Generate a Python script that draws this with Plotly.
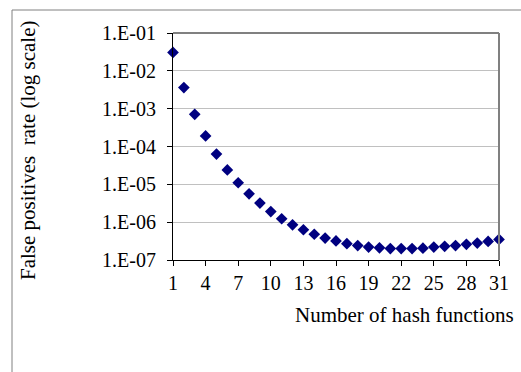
import plotly.graph_objects as go

hash_functions = list(range(1, 32))
false_positive_rate = [
    3.07e-2, 3.6e-3, 7.1e-4, 1.9e-4, 6.3e-5, 2.4e-5, 1.1e-5, 5.6e-6, 3.2e-6, 1.9e-6,
    1.23e-6, 8.5e-7, 6.3e-7, 4.8e-7, 3.8e-7, 3.2e-7, 2.7e-7, 2.4e-7, 2.2e-7, 2.1e-7,
    2.0e-7, 2.0e-7, 2.0e-7, 2.05e-7, 2.2e-7, 2.3e-7, 2.4e-7, 2.6e-7, 2.8e-7, 3.1e-7, 3.5e-7,
]
y_tick_vals = [1e-7, 1e-6, 1e-5, 1e-4, 1e-3, 1e-2, 1e-1]
y_tick_text = ["1.E-07", "1.E-06", "1.E-05", "1.E-04", "1.E-03", "1.E-02", "1.E-01"]
x_tick_vals = [1, 4, 7, 10, 13, 16, 19, 22, 25, 28, 31]

FONT = "Liberation Serif, Times New Roman, serif"
W, H = 521, 372
L, R, T, B = 173, 22, 33, 112
pw, ph = W - L - R, H - T - B

fig = go.Figure()
fig.add_trace(go.Scatter(
    x=hash_functions, y=false_positive_rate, mode="markers",
    marker=dict(symbol="diamond", size=9, color="#000080", line=dict(width=0)),
    cliponaxis=False, showlegend=False,
))

fig.update_layout(
    width=W, height=H,
    margin=dict(l=L, r=R, t=T, b=B),
    paper_bgcolor="white", plot_bgcolor="white",
    font=dict(family=FONT, size=20, color="black"),
    xaxis=dict(
        range=[1, 31], tickmode="array", tickvals=x_tick_vals,
        ticks="outside", ticklen=5, tickcolor="black", tickwidth=1,
        showline=True, linecolor="black", linewidth=1,
        showgrid=False, zeroline=False,
        tickfont=dict(family=FONT, size=20),
    ),
    yaxis=dict(
        type="log", range=[-7, -1], tickmode="array",
        tickvals=y_tick_vals, ticktext=y_tick_text,
        ticks="outside", ticklen=5, tickcolor="black", tickwidth=1,
        ticklabelstandoff=7,
        showline=True, linecolor="black", linewidth=1,
        showgrid=True, gridcolor="#c0c0c0", gridwidth=1, zeroline=False,
        tickfont=dict(family=FONT, size=20),
    ),
    shapes=[
        dict(type="line", xref="paper", yref="paper", x0=0, x1=1, y0=1, y1=1,
             line=dict(color="#808080", width=2)),
        dict(type="line", xref="paper", yref="paper", x0=1, x1=1, y0=0, y1=1,
             line=dict(color="#808080", width=2)),
        dict(type="line", xref="paper", yref="paper",
             x0=(12 - L) / pw, x1=(W + 5 - L) / pw,
             y0=1 + (T - 10) / ph, y1=1 + (T - 10) / ph,
             line=dict(color="#808080", width=1)),
        dict(type="line", xref="paper", yref="paper",
             x0=(12 - L) / pw, x1=(12 - L) / pw,
             y0=1 + (T - 10) / ph, y1=-(H + 5 - T - ph) / ph,
             line=dict(color="#808080", width=1)),
    ],
    annotations=[
        dict(text="False positives  rate (log scale)", textangle=-90,
             xref="paper", yref="paper",
             x=(28 - L) / pw, y=1 - (150 - T) / ph,
             xanchor="center", yanchor="middle", showarrow=False,
             font=dict(family=FONT, size=21)),
        dict(text="Number of hash functions",
             xref="paper", yref="paper",
             x=(516 - L) / pw, y=-(315 - T - ph) / ph,
             xanchor="right", yanchor="middle", showarrow=False,
             font=dict(family=FONT, size=21)),
    ],
)

fig.write_html("out.html", config={"displayModeBar": False},
               post_script="document.body.style.margin='0';")
